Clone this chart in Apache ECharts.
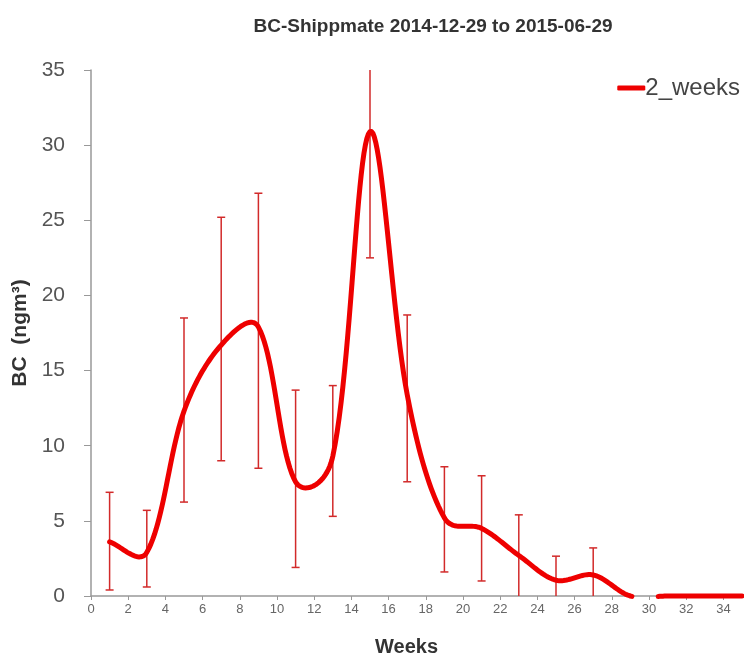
<!DOCTYPE html>
<html>
<head>
<meta charset="utf-8">
<script src="https://cdn.jsdelivr.net/npm/echarts@6/dist/echarts.min.js"></script>
<style>
  html, body { margin: 0; padding: 0; background: #fff; }
  #chart { width: 744px; height: 655px; }
</style>
</head>
<body>
<div id="chart"></div>
<script>
// weeks and 2-week mean BC, with error bar bounds
var weeks = [1, 3, 5, 7, 9, 11, 13, 15, 17, 19, 21, 23, 25, 27, 29, 31, 33, 35];
var bcMean = [3.6, 2.9, 12.3, 16.7, 17.9, 7.6, 9.3, 30.9, 13.4, 5.2, 4.5, 2.7, 1.05, 1.4, 0, 0, 0, 0];
var errLow = [0.4, 0.6, 6.25, 9.0, 8.5, 1.9, 5.3, 22.5, 7.6, 1.6, 1.0, 0, 0, 0];
var errHigh = [6.9, 5.7, 18.5, 25.2, 26.8, 13.7, 14.0, 36.0, 18.7, 8.6, 8.0, 5.4, 2.65, 3.2];
var yMax = 35;

var chart = echarts.init(document.getElementById('chart'));

var lineData = weeks.map(function (w, i) { return [w, bcMean[i]]; });
var errData = errLow.map(function (lo, i) { return [weeks[i], lo, errHigh[i]]; });

// Excel-style smoothed line: cubic beziers, control arms partly weighted by segment length
function armFactor(dNear, dFar) {
  var w = (dNear + dFar) > 0 ? dNear / (dNear + dFar) / 3 : 0;
  return 0.35 * (1 / 6) + 0.65 * w;
}
function smoothRuns(pts, floorY) {
  var samples = [];
  var n = pts.length;
  for (var i = 0; i < n - 1; i++) {
    var p0 = pts[i - 1] || pts[i], p1 = pts[i], p2 = pts[i + 1], p3 = pts[i + 2] || pts[i + 1];
    var d01 = Math.hypot(p1[0] - p0[0], p1[1] - p0[1]);
    var d12 = Math.hypot(p2[0] - p1[0], p2[1] - p1[1]);
    var d23 = Math.hypot(p3[0] - p2[0], p3[1] - p2[1]);
    var f1 = armFactor(d12, d01);
    var f2 = armFactor(d12, d23);
    var c1 = [p1[0] + (p2[0] - p0[0]) * f1, p1[1] + (p2[1] - p0[1]) * f1];
    var c2 = [p2[0] - (p3[0] - p1[0]) * f2, p2[1] - (p3[1] - p1[1]) * f2];
    for (var k = (i === 0 ? 0 : 1); k <= 24; k++) {
      var t = k / 24, u = 1 - t;
      samples.push([
        u * u * u * p1[0] + 3 * u * u * t * c1[0] + 3 * u * t * t * c2[0] + t * t * t * p2[0],
        u * u * u * p1[1] + 3 * u * u * t * c1[1] + 3 * u * t * t * c2[1] + t * t * t * p2[1]
      ]);
    }
  }
  // hide the part that dips below the plot floor
  var runs = [], cur = [];
  samples.forEach(function (p) {
    if (p[1] > floorY + 0.5) {
      if (cur.length > 1) runs.push(cur);
      cur = [];
    } else {
      cur.push(p);
    }
  });
  if (cur.length > 1) runs.push(cur);
  return runs;
}

var option = {
  animation: false,
  title: {
    text: 'BC-Shippmate 2014-12-29 to 2015-06-29',
    left: 433,
    top: 17,
    padding: 0,
    textAlign: 'center',
    textStyle: { fontFamily: 'Liberation Sans', fontSize: 19, fontWeight: 'bold', color: '#333' }
  },
  legend: {
    right: 4,
    top: 76,
    padding: 0,
    itemWidth: 28,
    itemHeight: 5,
    icon: 'roundRect',
    data: ['2_weeks'],
    textStyle: { fontFamily: 'Liberation Sans', fontSize: 24, color: '#444', padding: [0, 0, 0, -5] }
  },
  grid: { left: 91, right: 2, top: 70, bottom: 59, outerBoundsMode: 'none' },
  xAxis: {
    type: 'value',
    min: 0,
    max: 35,
    interval: 2,
    name: 'Weeks',
    nameLocation: 'middle',
    nameGap: 41,
    nameTextStyle: { fontFamily: 'Liberation Sans', fontSize: 20, fontWeight: 'bold', color: '#333', padding: [0, 20, 0, 0] },
    axisLine: { lineStyle: { color: '#999', width: 1.5 } },
    axisTick: { length: 4, lineStyle: { color: '#999' } },
    axisLabel: { fontFamily: 'Liberation Sans', fontSize: 13, color: '#666', margin: 7, showMaxLabel: false },
    splitLine: { show: false }
  },
  yAxis: {
    type: 'value',
    min: 0,
    max: yMax,
    interval: 5,
    name: 'BC  (ngm³)',
    nameLocation: 'middle',
    nameGap: 46,
    nameTextStyle: { fontFamily: 'Liberation Sans', fontSize: 21, fontWeight: 'bold', color: '#333' },
    axisLine: { show: true, lineStyle: { color: '#999', width: 1.5 } },
    axisTick: { show: true, length: 7, lineStyle: { color: '#999' } },
    axisLabel: { fontFamily: 'Liberation Sans', fontSize: 21, color: '#555', margin: 26 },
    splitLine: { show: false }
  },
  series: [
    {
      name: 'err',
      type: 'custom',
      data: errData,
      z: 1,
      renderItem: function (params, api) {
        var x = api.value(0);
        var hiVal = Math.min(api.value(2), yMax);
        var lo = api.coord([x, api.value(1)]);
        var hi = api.coord([x, hiVal]);
        var cap = 4;
        var style = { stroke: '#d22a2a', lineWidth: 1.5 };
        var children = [
          { type: 'line', shape: { x1: lo[0], y1: lo[1], x2: hi[0], y2: hi[1] }, style: style }
        ];
        if (api.value(2) <= yMax) {
          children.push({ type: 'line', shape: { x1: hi[0] - cap, y1: hi[1], x2: hi[0] + cap, y2: hi[1] }, style: style });
        }
        if (api.value(1) > 0) {
          children.push({ type: 'line', shape: { x1: lo[0] - cap, y1: lo[1], x2: lo[0] + cap, y2: lo[1] }, style: style });
        }
        return { type: 'group', children: children };
      }
    },
    {
      name: '2_weeks',
      type: 'custom',
      data: lineData,
      z: 3,
      itemStyle: { color: '#ee0000' },
      renderItem: function (params, api) {
        if (params.dataIndex !== 0) return null;
        var pts = weeks.map(function (w, i) { return api.coord([w, bcMean[i]]); });
        var floorY = api.coord([0, 0])[1];
        var runs = smoothRuns(pts, floorY);
        return {
          type: 'group',
          children: runs.map(function (r) {
            return {
              type: 'polyline',
              shape: { points: r },
              style: { stroke: '#ee0000', lineWidth: 5, fill: null, lineJoin: 'round', lineCap: 'round' }
            };
          })
        };
      }
    }
  ]
};

chart.setOption(option);
window.onresize = function () { chart.resize(); };
</script>
</body>
</html>
